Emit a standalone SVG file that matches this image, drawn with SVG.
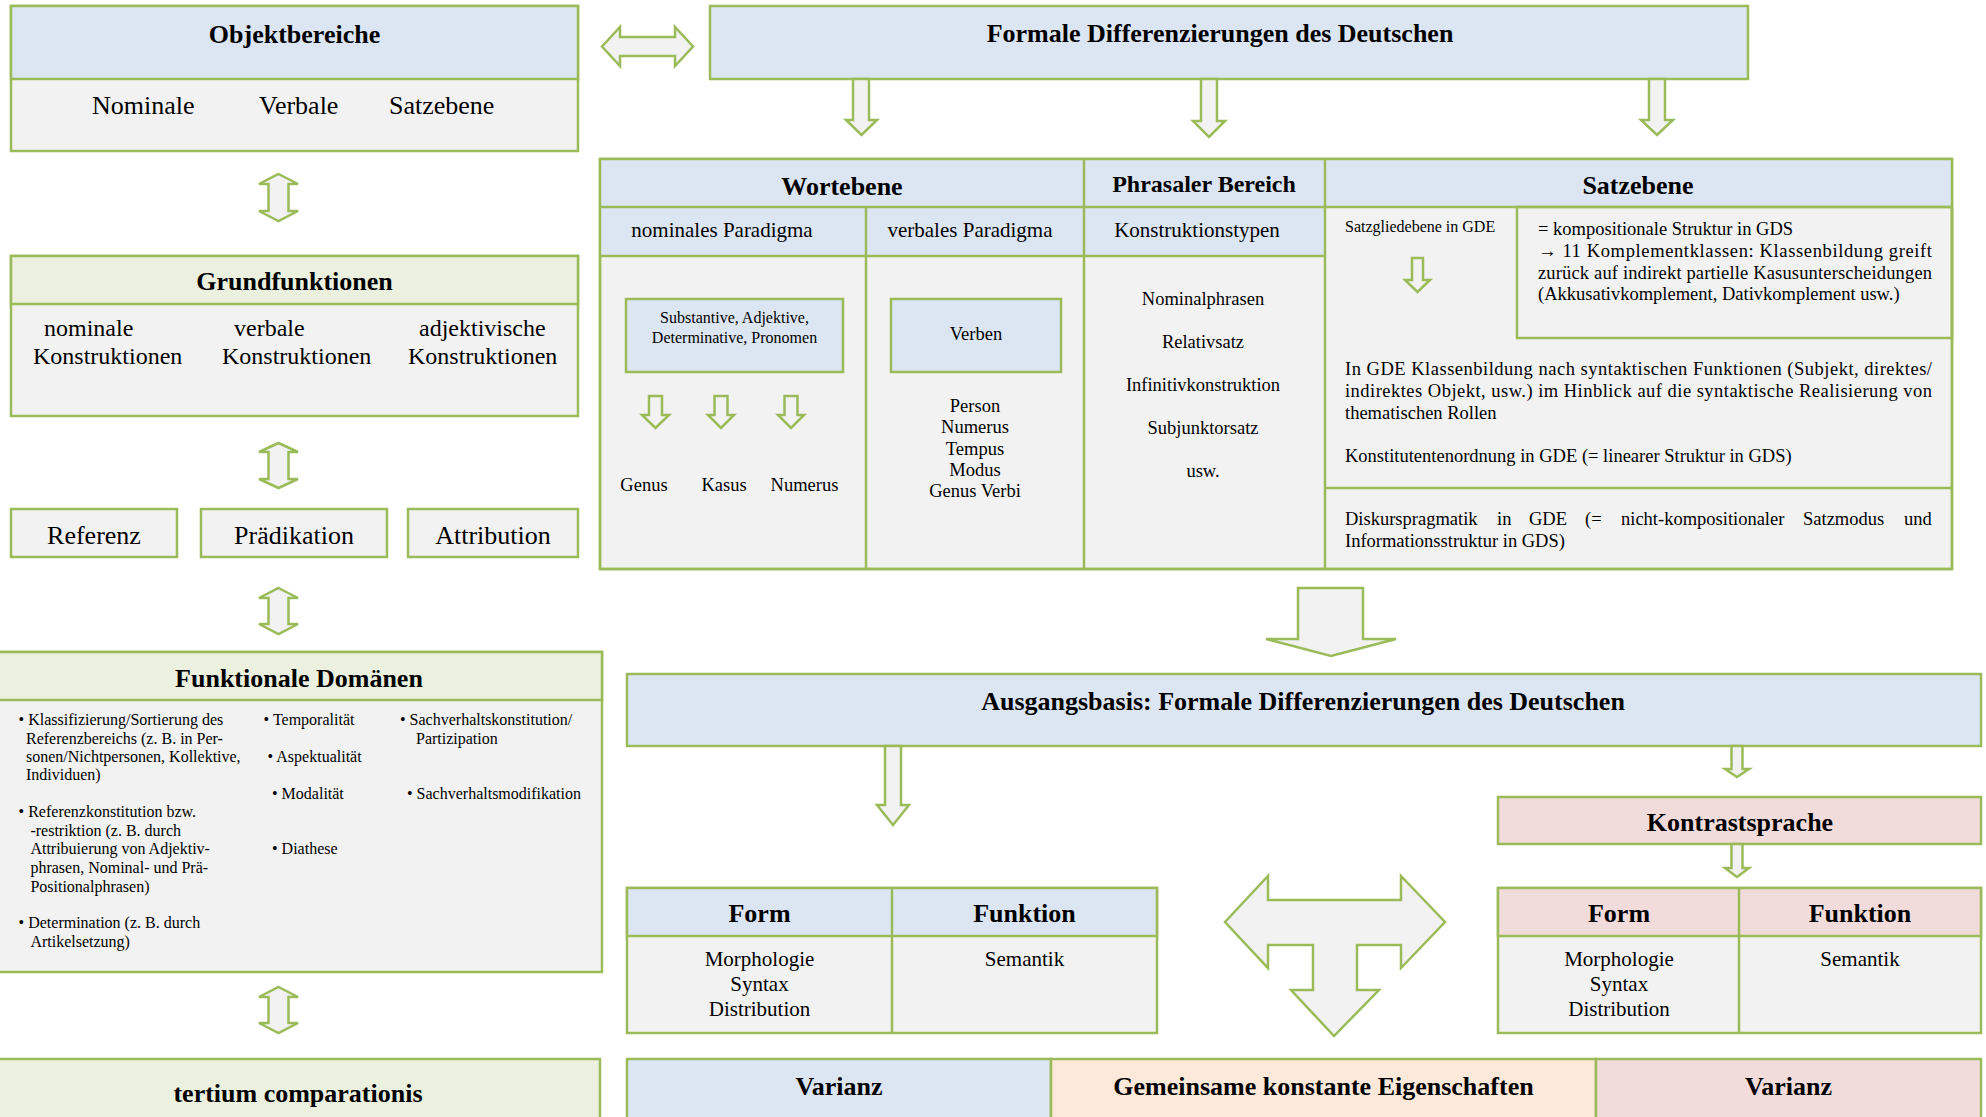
<svg xmlns="http://www.w3.org/2000/svg" width="1986" height="1117" viewBox="0 0 1986 1117">
<style>
.bd{stroke:#9bbb59;stroke-width:2.5;}
.ln{stroke:#9bbb59;stroke-width:2.5;fill:none;}
.blue{fill:#dce6f2;}
.gray{fill:#f2f2f2;}
.green{fill:#ebf1de;}
.pink{fill:#f2dcdb;}
.peach{fill:#fde9d9;}
.ar{fill:#f2f2f2;stroke:#9bbb59;stroke-width:2.5;stroke-linejoin:miter;}
text{font-family:"Liberation Serif","Times New Roman",serif;fill:#000;}
.h{font-weight:bold;font-size:26px;text-anchor:middle;}
.h24{font-weight:bold;font-size:24px;text-anchor:middle;}
.b26{font-size:26px;}
.b24{font-size:24px;}
.c21{font-size:21px;text-anchor:middle;}
.c18{font-size:18.5px;text-anchor:middle;}
.c16{font-size:16px;text-anchor:middle;}
.p18{font-size:18.5px;}
.s16{font-size:16px;}
</style>
<rect width="1986" height="1117" fill="#ffffff"/>

<g id="objektbereiche">
<rect class="gray bd" x="11" y="6" width="567" height="145"/>
<rect class="blue bd" x="11" y="6" width="567" height="73"/>
<text class="h" x="294.5" y="43">Objektbereiche</text>
<text class="b26" x="92" y="114">Nominale</text>
<text class="b26" x="259" y="114">Verbale</text>
<text class="b26" x="389" y="114">Satzebene</text>
</g>

<g id="grundfunktionen">
<rect class="gray bd" x="11" y="256" width="567" height="160"/>
<rect class="green bd" x="11" y="256" width="567" height="48"/>
<text class="h" x="294.5" y="290">Grundfunktionen</text>
<text class="b24" x="44" y="336">nominale</text>
<text class="b24" x="33" y="364">Konstruktionen</text>
<text class="b24" x="234" y="336">verbale</text>
<text class="b24" x="222" y="364">Konstruktionen</text>
<text class="b24" x="419" y="336">adjektivische</text>
<text class="b24" x="408" y="364">Konstruktionen</text>
</g>

<g id="referenz">
<rect class="gray bd" x="11" y="509" width="166" height="48"/>
<text class="b26" x="94" y="544" text-anchor="middle">Referenz</text>
</g>
<g id="praedikation">
<rect class="gray bd" x="201" y="509" width="186" height="48"/>
<text class="b26" x="294" y="544" text-anchor="middle">Prädikation</text>
</g>
<g id="attribution">
<rect class="gray bd" x="408" y="509" width="170" height="48"/>
<text class="b26" x="493" y="544" text-anchor="middle">Attribution</text>
</g>

<g id="funktionale-domaenen">
<rect class="gray bd" x="-3" y="652" width="605" height="320"/>
<rect class="green bd" x="-3" y="652" width="605" height="48"/>
<text class="h" x="299" y="687">Funktionale Domänen</text>
<text class="s16" x="18.6" y="725">• Klassifizierung/Sortierung des</text>
<text class="s16" x="26" y="744">Referenzbereichs (z. B. in Per-</text>
<text class="s16" x="26" y="762">sonen/Nichtpersonen, Kollektive,</text>
<text class="s16" x="26" y="780">Individuen)</text>
<text class="s16" x="18.6" y="817">• Referenzkonstitution bzw.</text>
<text class="s16" x="30.4" y="836">-restriktion (z. B. durch</text>
<text class="s16" x="30.4" y="854">Attribuierung von Adjektiv-</text>
<text class="s16" x="30.4" y="873">phrasen, Nominal- und Prä-</text>
<text class="s16" x="30.4" y="892">Positionalphrasen)</text>
<text class="s16" x="18.6" y="928">• Determination (z. B. durch</text>
<text class="s16" x="30.4" y="947">Artikelsetzung)</text>
<text class="s16" x="263.6" y="725">• Temporalität</text>
<text class="s16" x="267.6" y="762">• Aspektualität</text>
<text class="s16" x="272" y="799">• Modalität</text>
<text class="s16" x="272" y="854">• Diathese</text>
<text class="s16" x="400" y="725">• Sachverhaltskonstitution/</text>
<text class="s16" x="416" y="744">Partizipation</text>
<text class="s16" x="407" y="799">• Sachverhaltsmodifikation</text>
</g>

<g id="tertium-comparationis">
<rect class="green bd" x="-3" y="1059" width="603" height="80"/>
<text class="h" x="298" y="1102">tertium comparationis</text>
</g>

<g id="formale-differenzierungen">
<rect class="blue bd" x="710" y="6" width="1038" height="73"/>
<text class="h" x="1220" y="42">Formale Differenzierungen des Deutschen</text>
</g>

<g id="tabelle-ebenen">
<rect class="gray bd" x="600" y="159" width="1352" height="410"/>
<rect class="blue" x="600" y="159" width="1352" height="48"/>
<rect class="blue" x="600" y="207" width="725" height="49"/>
<rect class="ln" x="600" y="159" width="1352" height="410"/>
<line class="ln" x1="600" y1="207" x2="1952" y2="207"/>
<line class="ln" x1="600" y1="256" x2="1325" y2="256"/>
<line class="ln" x1="866" y1="207" x2="866" y2="569"/>
<line class="ln" x1="1084" y1="159" x2="1084" y2="569"/>
<line class="ln" x1="1325" y1="159" x2="1325" y2="569"/>
<rect class="ln" x="1517" y="207" width="435" height="131"/>
<line class="ln" x1="1325" y1="488" x2="1952" y2="488"/>
<text class="h" x="842" y="195">Wortebene</text>
<text class="h24" x="1204" y="192">Phrasaler Bereich</text>
<text class="h" x="1638" y="194">Satzebene</text>
<text class="c21" x="722" y="237">nominales Paradigma</text>
<text class="c21" x="970" y="237">verbales Paradigma</text>
<text class="c21" x="1197" y="237">Konstruktionstypen</text>
<g id="substantive">
<rect class="blue bd" x="626" y="299" width="217" height="73"/>
<text class="c16" x="734.5" y="323">Substantive, Adjektive,</text>
<text class="c16" x="734.5" y="343">Determinative, Pronomen</text>
</g>
<g id="verben">
<rect class="blue bd" x="891" y="299" width="170" height="73"/>
<text class="c18" x="976" y="340">Verben</text>
</g>
<text class="c18" x="644" y="491">Genus</text>
<text class="c18" x="724" y="491">Kasus</text>
<text class="c18" x="804.5" y="491">Numerus</text>
<text class="c18" x="975" y="412">Person</text>
<text class="c18" x="975" y="433">Numerus</text>
<text class="c18" x="975" y="455">Tempus</text>
<text class="c18" x="975" y="476">Modus</text>
<text class="c18" x="975" y="497">Genus Verbi</text>
<text class="c18" x="1203" y="305">Nominalphrasen</text>
<text class="c18" x="1203" y="348">Relativsatz</text>
<text class="c18" x="1203" y="391">Infinitivkonstruktion</text>
<text class="c18" x="1203" y="434">Subjunktorsatz</text>
<text class="c18" x="1203" y="477">usw.</text>
<text class="s16" x="1345" y="232">Satzgliedebene in GDE</text>
<text class="p18" x="1538" y="235">= kompositionale Struktur in GDS</text>
<text class="p18" x="1538" y="257" textLength="394" lengthAdjust="spacing">→ 11 Komplementklassen: Klassenbildung greift</text>
<text class="p18" x="1538" y="279" textLength="394" lengthAdjust="spacing">zurück auf indirekt partielle Kasusunterscheidungen</text>
<text class="p18" x="1538" y="300">(Akkusativkomplement, Dativkomplement usw.)</text>
<text class="p18" x="1345" y="375" textLength="587" lengthAdjust="spacing">In GDE Klassenbildung nach syntaktischen Funktionen (Subjekt, direktes/</text>
<text class="p18" x="1345" y="397" textLength="587" lengthAdjust="spacing">indirektes Objekt, usw.) im Hinblick auf die syntaktische Realisierung von</text>
<text class="p18" x="1345" y="419">thematischen Rollen</text>
<text class="p18" x="1345" y="462">Konstitutentenordnung in GDE (= linearer Struktur in GDS)</text>
<text class="p18" y="525"><tspan x="1345">Diskurspragmatik</tspan><tspan x="1497">in</tspan><tspan x="1529">GDE</tspan><tspan x="1585">(=</tspan><tspan x="1621">nicht-kompositionaler</tspan><tspan x="1803">Satzmodus</tspan><tspan x="1904">und</tspan></text>
<text class="p18" x="1345" y="547">Informationsstruktur in GDS)</text>
</g>

<g id="ausgangsbasis">
<rect class="blue bd" x="627" y="674" width="1354" height="72"/>
<text class="h" x="1303" y="710">Ausgangsbasis: Formale Differenzierungen des Deutschen</text>
</g>

<g id="kontrastsprache">
<rect class="pink bd" x="1498" y="797" width="483" height="47"/>
<text class="h" x="1740" y="831">Kontrastsprache</text>
</g>

<g id="form-funktion-deutsch">
<rect class="gray bd" x="627" y="888" width="530" height="145"/>
<rect class="blue bd" x="627" y="888" width="530" height="48"/>
<line class="ln" x1="892" y1="888" x2="892" y2="1033"/>
<text class="h" x="759.5" y="922">Form</text>
<text class="h" x="1024.5" y="922">Funktion</text>
<text class="c21" x="759.5" y="966">Morphologie</text>
<text class="c21" x="759.5" y="991">Syntax</text>
<text class="c21" x="759.5" y="1016">Distribution</text>
<text class="c21" x="1024.5" y="966">Semantik</text>
</g>

<g id="form-funktion-kontrast">
<rect class="gray bd" x="1498" y="888" width="483" height="145"/>
<rect class="pink bd" x="1498" y="888" width="483" height="48"/>
<line class="ln" x1="1739" y1="888" x2="1739" y2="1033"/>
<text class="h" x="1619" y="922">Form</text>
<text class="h" x="1860" y="922">Funktion</text>
<text class="c21" x="1619" y="966">Morphologie</text>
<text class="c21" x="1619" y="991">Syntax</text>
<text class="c21" x="1619" y="1016">Distribution</text>
<text class="c21" x="1860" y="966">Semantik</text>
</g>

<g id="vergleich">
<rect class="blue bd" x="627" y="1059" width="424" height="80"/>
<rect class="peach bd" x="1051" y="1059" width="545" height="80"/>
<rect class="pink bd" x="1596" y="1059" width="385" height="80"/>
<text class="h" x="839" y="1095">Varianz</text>
<text class="h" x="1323.5" y="1095">Gemeinsame konstante Eigenschaften</text>
<text class="h" x="1788.5" y="1095">Varianz</text>
</g>

<g id="connectors">
<polygon class="ar" points="602,46.5 620,27 620,37 675,37 675,27 693,46.5 675,66 675,56 620,56 620,66"/>
<polygon class="ar" points="853,79 869,79 869,120 877,120 861.5,135 846,120 853,120"/>
<polygon class="ar" points="1201,79 1217,79 1217,121 1225,121 1209,137 1193,121 1201,121"/>
<polygon class="ar" points="1649,79 1665,79 1665,120 1673,120 1657,135 1641,120 1649,120"/>
<polygon class="ar" points="278.5,174 298,184 288.5,184 288.5,211 298,211 278.5,221 259,211 268.5,211 268.5,184 259,184"/>
<polygon class="ar" points="278.5,443 298,452 288.5,452 288.5,479 298,479 278.5,488 259,479 268.5,479 268.5,452 259,452"/>
<polygon class="ar" points="278.5,588 298,598 288.5,598 288.5,624 298,624 278.5,634 259,624 268.5,624 268.5,598 259,598"/>
<polygon class="ar" points="278.5,987 298,997 288.5,997 288.5,1023 298,1023 278.5,1033 259,1023 268.5,1023 268.5,997 259,997"/>
<polygon class="ar" points="649,396 662,396 662,415 669,415 655.5,428 642,415 649,415"/>
<polygon class="ar" points="714.5,396 727.5,396 727.5,415 734,415 721,428 708,415 714.5,415"/>
<polygon class="ar" points="784.5,396 797.5,396 797.5,415 804,415 791,428 778,415 784.5,415"/>
<polygon class="ar" points="1412,258 1423,258 1423,280 1430,280 1417.5,292 1405,280 1412,280"/>
<polygon class="ar" points="1298,588 1363,588 1363,639 1396,639 1331,656 1266,639 1298,639"/>
<polygon class="ar" points="885,746 901,746 901,805 909,805 893,825 877,805 885,805"/>
<polygon class="ar" points="1731.5,746 1742.5,746 1742.5,769 1749,769 1737,777 1725,769 1731.5,769"/>
<polygon class="ar" points="1731.5,844 1742.5,844 1742.5,868 1749,868 1737,877 1725,868 1731.5,868"/>
<polygon class="ar" points="1225,922 1268,876 1268,900 1401,900 1401,876 1445,922 1401,968 1401,945 1357,945 1357,990 1379,990 1334,1036 1291,990 1313,990 1313,945 1268,945 1268,968"/>
</g>
</svg>
